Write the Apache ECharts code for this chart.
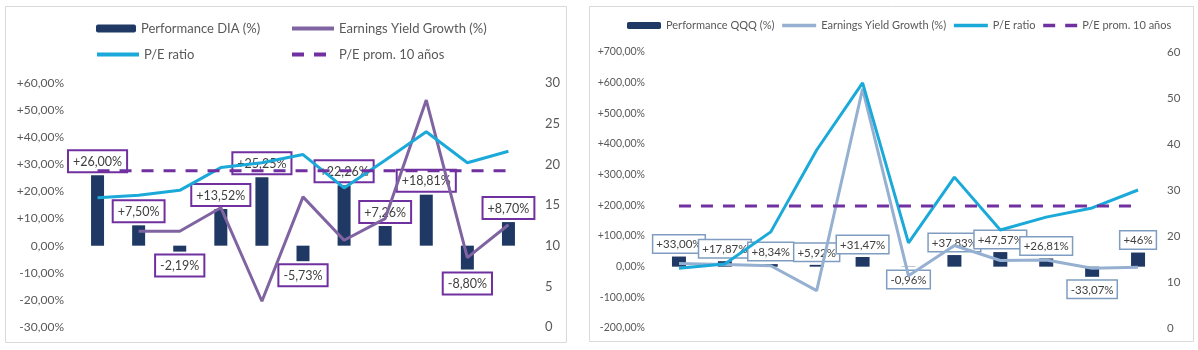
<!DOCTYPE html>
<html>
<head>
<meta charset="utf-8">
<script src="https://cdn.jsdelivr.net/npm/echarts@6/dist/echarts.min.js"></script>
<style>
html,body{margin:0;padding:0;background:#fff;}
#c1{position:absolute;left:0;top:0;width:578px;height:350px;}
#c2{position:absolute;left:578px;top:0;width:620px;height:350px;}
</style>
</head>
<body>
<div id="c1"></div>
<div id="c2"></div>
<script>
// ---------- data ----------
const categories = ['2013','2014','2015','2016','2017','2018','2019','2020','2021','2022','2023'];

// Left panel (DIA)
const perfDIA = [26.00, 7.50, -2.19, 13.52, 25.25, -5.73, 22.26, 7.26, 18.81, -8.80, 8.70];
const eygDIA  = [null, 5.3, 5.3, 14.0, -20.5, 18.0, 2.0, 10.0, 53.7, -4.4, 7.7];
const peDIA   = [15.9, 16.2, 16.8, 19.6, 20.2, 21.2, 17.1, 20.5, 24.0, 20.2, 21.6];
const peAvgDIA = [19.2, 19.2, 19.2, 19.2, 19.2, 19.2, 19.2, 19.2, 19.2, 19.2, 19.2];

// Right panel (QQQ)
const perfQQQ = [33.00, 17.87, 8.34, 5.92, 31.47, -0.96, 37.83, 47.57, 26.81, -33.07, 46];
const perfQQQLabels = ['+33,00%','+17,87%','+8,34%','+5,92%','+31,47%','-0,96%','+37,83%','+47,57%','+26,81%','-33,07%','+46%'];
const eygQQQ  = [10, 7, 3, -78, 580, -30, 69, 20, 22, -5, -2];
const peQQQ   = [13.0, 13.9, 20.9, 38.7, 53.3, 18.5, 32.8, 21.3, 24.1, 26.1, 30.0];
const peAvgQQQ = [26.5, 26.5, 26.5, 26.5, 26.5, 26.5, 26.5, 26.5, 26.5, 26.5, 26.5];

// ---------- helpers ----------
const FONT = 'Lato, "Open Sans", sans-serif';
const TXT = '#595959';
function pct(v){
  const s = Math.abs(v).toFixed(2).replace('.', ',');
  return (v > 0 ? '+' : v < 0 ? '-' : '') + s + '%';
}
const NAVY = '#1F3864';
const CYAN = '#1AA9D8';
const PURPLE = '#7030A0';
const NOSYM = {opacity:0};
function lineLegend(name, w){ return {name:name, itemStyle:NOSYM, lineStyle:{width:w}}; }

// ---------- left chart ----------
const c1 = echarts.init(document.getElementById('c1'));
function legendItem(name, left, top, w, h, fs, isLine){
  return {data:[isLine ? lineLegend(name, 4) : name], left:left, top:top, padding:0, itemWidth:w, itemHeight:h,
    textStyle:{color:TXT, fontFamily:FONT, fontSize:fs}, selectedMode:false};
}
c1.setOption({
  animation:false,
  backgroundColor:'#fff',
  graphic:[{type:'rect', shape:{x:5.5, y:6.5, width:561, height:336},
    style:{fill:'none', stroke:'#D9D9D9', lineWidth:1}}],
  legend:[
    legendItem('Performance DIA (%)', 96, 22, 40, 8, 13, false),
    legendItem('Earnings Yield Growth (%)', 290, 22, 42, 8, 13, true),
    legendItem('P/E ratio', 95, 48, 42, 8, 13, true),
    legendItem('P/E prom. 10 años', 290, 48, 42, 8, 13, true)
  ],
  grid:{left:77, top:83, width:452, height:244},
  xAxis:{type:'category', data:categories, axisLine:{show:false}, axisTick:{show:false}, axisLabel:{show:false}, splitLine:{show:false}},
  yAxis:[
    {type:'value', min:-30, max:60, interval:10, splitLine:{show:false}, axisLine:{show:false}, axisTick:{show:false},
     axisLabel:{formatter:pct, color:TXT, fontFamily:FONT, fontSize:12, margin:13}},
    {type:'value', min:0, max:30, interval:5, splitLine:{show:false}, axisLine:{show:false}, axisTick:{show:false},
     axisLabel:{color:TXT, fontFamily:FONT, fontSize:13, margin:16}}
  ],
  series:[
    {name:'Performance DIA (%)', type:'bar', yAxisIndex:0, barWidth:13, z:1,
     itemStyle:{color:NAVY},
     data: perfDIA.map(v => ({value:v, label:{position: v < 0 ? 'bottom' : 'top'}})),
     label:{show:true, formatter:p => pct(p.value), distance:4, color:'#404040', fontFamily:FONT, fontSize:12.5,
       backgroundColor:'#fff', borderColor:PURPLE, borderWidth:2, padding:[4,4,3,4]}},
    {name:'Earnings Yield Growth (%)', type:'line', yAxisIndex:0, data:eygDIA, symbol:'none', z:3,
     lineStyle:{color:'#8064A2', width:3}, itemStyle:{color:'#8064A2'}},
    {name:'P/E ratio', type:'line', yAxisIndex:1, data:peDIA, symbol:'none', z:3,
     lineStyle:{color:CYAN, width:3}, itemStyle:{color:CYAN}},
    {name:'P/E prom. 10 años', type:'line', yAxisIndex:1, data:peAvgDIA, symbol:'none', z:3,
     lineStyle:{color:PURPLE, width:3, type:[12,10]}, itemStyle:{color:PURPLE}}
  ]
});

// ---------- right chart ----------
const c2 = echarts.init(document.getElementById('c2'));
c2.setOption({
  animation:false,
  backgroundColor:'#fff',
  graphic:[{type:'rect', shape:{x:11.5, y:6.5, width:604, height:335},
    style:{fill:'none', stroke:'#D9D9D9', lineWidth:1}}],
  legend:{data:['Performance QQQ (%)',
                lineLegend('Earnings Yield Growth (%)', 3.5),
                lineLegend('P/E ratio', 3.5),
                lineLegend('P/E prom. 10 años', 3.5)],
    left:49, top:20, width:560, padding:0, itemGap:6, itemWidth:34, itemHeight:7, selectedMode:false,
    textStyle:{color:TXT, fontFamily:FONT, fontSize:11}},
  grid:{left:78, top:52, width:505, height:276},
  xAxis:{type:'category', data:categories, axisLine:{show:false}, axisTick:{show:false}, axisLabel:{show:false}, splitLine:{show:false}},
  yAxis:[
    {type:'value', min:-200, max:700, interval:100, splitLine:{show:false}, axisLine:{show:false}, axisTick:{show:false},
     axisLabel:{formatter:pct, color:TXT, fontFamily:FONT, fontSize:10.5, margin:11}},
    {type:'value', min:0, max:60, interval:10, splitLine:{show:false}, axisLine:{show:false}, axisTick:{show:false},
     axisLabel:{color:TXT, fontFamily:FONT, fontSize:11.5, margin:6}}
  ],
  series:[
    {name:'Performance QQQ (%)', type:'bar', yAxisIndex:0, barWidth:14, z:1,
     itemStyle:{color:NAVY},
     data: perfQQQ.map(v => ({value:v, label:{position: v < 0 ? 'bottom' : 'top'}})),
     label:{show:true, formatter:p => perfQQQLabels[p.dataIndex], distance:4, color:'#404040', fontFamily:FONT, fontSize:11.5,
       backgroundColor:'#fff', borderColor:'#7F9DC0', borderWidth:1.5, padding:[3,3,2,3]}},
    {name:'Earnings Yield Growth (%)', type:'line', yAxisIndex:0, data:eygQQQ, symbol:'none', z:3,
     lineStyle:{color:'#95B0D0', width:3}, itemStyle:{color:'#95B0D0'}},
    {name:'P/E ratio', type:'line', yAxisIndex:1, data:peQQQ, symbol:'none', z:3,
     lineStyle:{color:CYAN, width:3}, itemStyle:{color:CYAN}},
    {name:'P/E prom. 10 años', type:'line', yAxisIndex:1, data:peAvgQQQ, symbol:'none', z:3,
     lineStyle:{color:PURPLE, width:3, type:[12,10]}, itemStyle:{color:PURPLE}}
  ]
});
</script>
</body>
</html>
